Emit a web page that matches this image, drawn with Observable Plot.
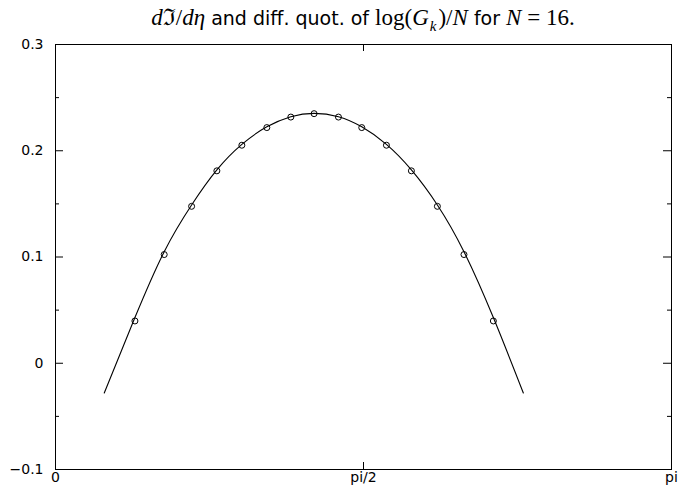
<!DOCTYPE html>
<html>
<head>
<meta charset="utf-8">
<script src="https://cdn.jsdelivr.net/npm/d3@7"></script>
<script src="https://cdn.jsdelivr.net/npm/@observablehq/plot@0.6"></script>
<style>
  html, body { margin: 0; padding: 0; background: #fff; }
  #chart { width: 688px; height: 491px; }
  .title {
    height: 33px; line-height: 36px; box-sizing: border-box;
    padding-left: 55px; padding-right: 17px; text-align: center;
    font-family: "DejaVu Sans", sans-serif; font-size: 19px; color: #000;
    white-space: nowrap;
  }
  .title .m { font-family: "Liberation Serif", "DejaVu Serif", serif; font-size: 23px; }
  .title .i { font-style: italic; }
  .title sub { font-size: 15px; line-height: 0; padding-left: 1px; padding-right: 2px; }
</style>
</head>
<body>
<div id="chart">
  <div class="title"><span class="m"><span class="i">d</span>ℑ/<span class="i">dη</span></span> and diff. quot. of <span class="m">log(<span class="i">G<sub>k</sub></span>)/<span class="i">N</span></span> for <span class="m"><span class="i">N</span> = 16.</span></div>
</div>
<script>
// x positions (radians) of the difference quotients
const quotX = [0.4051, 0.5544, 0.6941, 0.8230, 0.9504, 1.0778, 1.2001, 1.3188,
               1.4431, 1.5619, 1.6877, 1.8151, 1.9476, 2.0832, 2.2330];
// difference quotient of log(G_k)/N
const quotY = [0.0398, 0.1023, 0.1477, 0.1811, 0.2052, 0.2218, 0.2317, 0.2349,
               0.2317, 0.2218, 0.2052, 0.1811, 0.1477, 0.1023, 0.0398];

// samples of dJ/deta
const curveX = [0.2486, 0.4051, 0.5544, 0.6941, 0.8230, 0.9504, 1.0778, 1.2001, 1.3188,
                1.4431, 1.5619, 1.6877, 1.8151, 1.9476, 2.0832, 2.2330, 2.3860];
const curveY = [-0.028, 0.043, 0.105, 0.149, 0.182, 0.206, 0.2225, 0.232, 0.2352,
                0.232, 0.2225, 0.206, 0.182, 0.149, 0.105, 0.043, -0.028];

// axes
const xTicks = [0, Math.PI / 2, Math.PI];
const xTickLabels = ["0", "pi/2", "pi"];
const yTicks = [-0.1, 0, 0.1, 0.2, 0.3];
const yTickLabels = ["\u22120.1", "0", "0.1", "0.2", "0.3"];
const yMinorTicks = [-0.05, 0.05, 0.15, 0.25];

const W = 688, H = 458;
const mL = 55, mR = 17, mT = 11, mB = 22;
const innerW = W - mL - mR, innerH = H - mT - mB;

const quot = quotX.map((x, i) => ({x, y: quotY[i]}));
const curve = curveX.map((x, i) => ({x, y: curveY[i]}));

const chart = Plot.plot({
  width: W, height: H,
  marginLeft: mL, marginRight: mR, marginTop: mT, marginBottom: mB,
  style: {fontFamily: "DejaVu Sans, sans-serif", fontSize: "14px", color: "#000", background: "#fff"},
  x: {domain: [0, Math.PI], label: null},
  y: {domain: [-0.1, 0.3], label: null},
  marks: [
    Plot.frame({stroke: "#000", strokeWidth: 1}),
    // inward ticks on all four sides
    Plot.tickY(yTicks, {y: d => d, insetRight: innerW - 8, stroke: "#000"}),
    Plot.tickY(yTicks, {y: d => d, insetLeft: innerW - 8, stroke: "#000"}),
    Plot.tickY(yMinorTicks, {y: d => d, insetRight: innerW - 4, stroke: "#000"}),
    Plot.tickY(yMinorTicks, {y: d => d, insetLeft: innerW - 4, stroke: "#000"}),
    Plot.tickX(xTicks, {x: d => d, insetTop: innerH - 7, stroke: "#000"}),
    Plot.tickX(xTicks, {x: d => d, insetBottom: innerH - 7, stroke: "#000"}),
    Plot.axisY({ticks: yTicks, tickSize: 0, tickPadding: 12, label: null, tickFormat: (d, i) => yTickLabels[i], letterSpacing: 0.5}),
    Plot.axisX({ticks: xTicks, tickSize: 0, tickPadding: 3, label: null, tickFormat: (d, i) => xTickLabels[i], letterSpacing: 0.5}),
    Plot.line(curve, {x: "x", y: "y", curve: "natural", stroke: "#000", strokeWidth: 1.1}),
    Plot.dot(quot, {x: "x", y: "y", r: 3, stroke: "#000", strokeWidth: 1, fill: "none"})
  ]
});
document.getElementById("chart").appendChild(chart);
</script>
</body>
</html>
